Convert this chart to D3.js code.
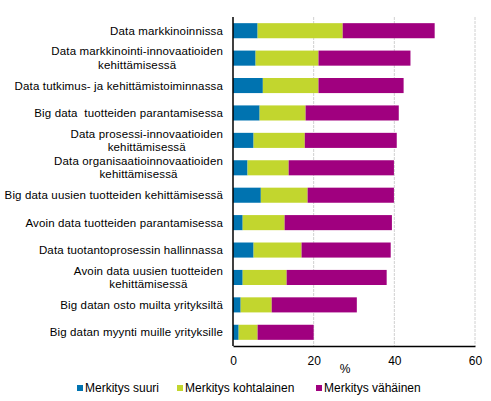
<!DOCTYPE html>
<html>
<head>
<meta charset="utf-8">
<script src="https://cdn.jsdelivr.net/npm/d3@7"></script>
<style>
  body { margin: 0; background: #fff; }
  svg { font-family: "Liberation Sans", Arial, sans-serif; }
  text { white-space: pre; }
</style>
</head>
<body>
<svg id="chart" width="491" height="401"></svg>
<script>
// categories, top to bottom (lines split where the label wraps)
var categories = [
    ["Data markkinoinnissa"],
    ["Data markkinointi-innovaatioiden", "kehittämisessä"],
    ["Data tutkimus- ja kehittämistoiminnassa"],
    ["Big data  tuotteiden parantamisessa"],
    ["Data prosessi-innovaatioiden", "kehittämisessä"],
    ["Data organisaatioinnovaatioiden", "kehittämisessä"],
    ["Big data uusien tuotteiden kehittämisessä"],
    ["Avoin data tuotteiden parantamisessa"],
    ["Data tuotantoprosessin hallinnassa"],
    ["Avoin data uusien tuotteiden", "kehittämisessä"],
    ["Big datan osto muilta yrityksiltä"],
    ["Big datan myynti muille yrityksille"]
];

var seriesNames = ["Merkitys suuri", "Merkitys kohtalainen", "Merkitys vähäinen"];
var seriesColors = ["#0073b0", "#c2d62e", "#a0007f"];

var suuri       = [6.1, 5.6, 7.4, 6.6, 5.1, 3.6, 6.9, 2.4, 5.1, 2.4, 1.9, 1.4];
var kohtalainen = [21.1, 15.6, 13.8, 11.4, 12.7, 10.2, 11.6, 10.4, 11.9, 10.9, 7.7, 4.7];
var vahainen    = [22.8, 22.8, 21.1, 23.1, 22.8, 26.1, 21.4, 26.6, 22.1, 24.8, 21.1, 13.9];

var xTicks = [0, 20, 40, 60];

(function() {
    var margin = {top: 17, right: 16, bottom: 55, left: 233},
        width = 491 - margin.left - margin.right,
        height = 401 - margin.top - margin.bottom;

    var svg = d3.select("#chart")
        .append("g")
        .attr("transform", "translate(" + margin.left + "," + margin.top + ")");

    // build rows for stacking
    var rows = categories.map(function(c, i) {
        return {key: i, s0: suuri[i], s1: kohtalainen[i], s2: vahainen[i]};
    });
    var stacked = d3.stack().keys(["s0", "s1", "s2"])(rows);

    var x = d3.scaleLinear().domain([0, 60]).range([0, width]);
    var y = d3.scaleBand()
        .domain(d3.range(categories.length))
        .range([0, height])
        .paddingInner(0.45)
        .paddingOuter(0.225);

    // gridlines
    svg.append("g").selectAll("line")
        .data(xTicks.slice(1))
        .enter().append("line")
        .attr("x1", function(d) { return x(d); })
        .attr("x2", function(d) { return x(d); })
        .attr("y1", 0)
        .attr("y2", height)
        .attr("stroke", "#d0d0d0")
        .attr("stroke-width", 1)
        .attr("stroke-dasharray", "3,1");

    // bars
    svg.append("g").selectAll("g")
        .data(stacked)
        .enter().append("g")
        .attr("fill", function(d, i) { return seriesColors[i]; })
        .selectAll("rect")
        .data(function(d) { return d; })
        .enter().append("rect")
        .attr("x", function(d) { return x(d[0]); })
        .attr("width", function(d) { return x(d[1]) - x(d[0]); })
        .attr("y", function(d) { return y(d.data.key); })
        .attr("height", y.bandwidth());

    // x axis
    var xAxis = svg.append("g")
        .attr("transform", "translate(0," + height + ")")
        .call(d3.axisBottom(x).tickValues(xTicks).tickSize(0).tickPadding(10));
    xAxis.select(".domain").attr("stroke", "#000").attr("stroke-width", 1.5);
    xAxis.selectAll("text").attr("font-size", "12px").attr("fill", "#000")
        .attr("font-family", "Liberation Sans, Arial, sans-serif");

    // y axis line
    svg.append("line")
        .attr("x1", 0).attr("x2", 0)
        .attr("y1", 0).attr("y2", height)
        .attr("stroke", "#000")
        .attr("stroke-width", 1.5);

    // category labels
    var labels = svg.append("g").selectAll("g")
        .data(categories)
        .enter().append("g")
        .attr("transform", function(d, i) {
            return "translate(-10," + (y(i) + y.bandwidth() / 2) + ")";
        });
    labels.each(function(lines) {
        var g = d3.select(this);
        var n = lines.length;
        var first = g.append("text")
            .attr("text-anchor", "end")
            .attr("dy", "0.35em")
            .attr("y", (0 - (n - 1) * 6.8))
            .attr("font-size", "11.5px")
            .attr("letter-spacing", "0.15px")
            .attr("fill", "#000")
            .text(lines[0]);
        if (n > 1) {
            var w = first.node().getComputedTextLength();
            g.append("text")
                .attr("text-anchor", "middle")
                .attr("x", -w / 2)
                .attr("y", 6.5)
                .attr("dy", "0.35em")
                .attr("font-size", "11.5px")
                .attr("letter-spacing", "0.15px")
                .attr("fill", "#000")
                .text(lines[1]);
        }
    });

    // text label for the x axis
    svg.append("text")
        .attr("x", 112)
        .attr("y", height + 27)
        .style("text-anchor", "middle")
        .attr("font-size", "12px")
        .text("%");

    // legend
    var legendX = [77, 177, 316];
    var legend = d3.select("#chart").append("g").selectAll("g")
        .data(seriesNames)
        .enter().append("g")
        .attr("transform", function(d, i) { return "translate(" + legendX[i] + ",388)"; });
    legend.append("rect")
        .attr("x", 0).attr("y", -3)
        .attr("width", 6).attr("height", 6)
        .attr("fill", function(d, i) { return seriesColors[i]; });
    legend.append("text")
        .attr("x", 8)
        .attr("dy", "0.35em")
        .attr("font-size", "12px")
        .text(function(d) { return d; });
})();
</script>
</body>
</html>
